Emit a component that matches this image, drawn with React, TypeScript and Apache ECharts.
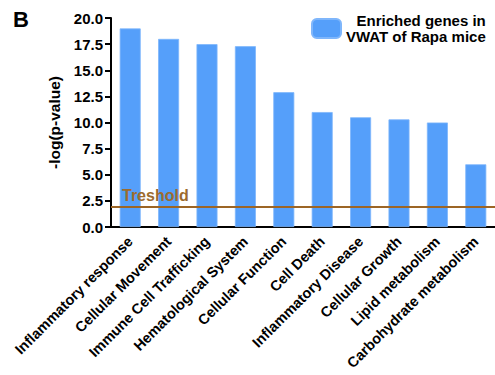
import React, { useEffect, useRef } from "react";
import * as echarts from "echarts";

const categories = [
  "Inflammatory response",
  "Cellular Movement",
  "Immune Cell Trafficking",
  "Hematological System",
  "Cellular Function",
  "Cell Death",
  "Inflammatory Disease",
  "Cellular Growth",
  "Lipid metabolism",
  "Carbohydrate metabolism",
];
const values = [19.0, 18.0, 17.5, 17.3, 12.9, 11.0, 10.5, 10.3, 10.0, 6.0];
const threshold = 1.9;
const seriesName = "Enriched genes in VWAT of Rapa mice";

const FONT = 'Arial, "Liberation Sans", sans-serif';

export default function App() {
  const ref = useRef<HTMLDivElement>(null);
  useEffect(() => {
    if (!ref.current) return;
    const chart = echarts.init(ref.current, undefined, { renderer: "svg" });
    chart.setOption({
      animation: false,
      textStyle: { fontFamily: FONT },
      title: {
        text: "B",
        left: 8,
        top: 3,
        textStyle: { fontSize: 22, fontWeight: "bold", color: "#000", fontFamily: FONT },
      },
      legend: {
        left: 311,
        top: 13,
        padding: 0,
        icon: "roundRect",
        itemWidth: 29,
        itemHeight: 19,
        itemGap: 5,
        data: [seriesName],
        formatter: () => "{a|Enriched genes in}\n{a|VWAT of Rapa mice}",
        textStyle: {
          rich: {
            a: {
              fontSize: 15,
              fontWeight: "bold",
              color: "#000",
              align: "right",
              lineHeight: 16,
              fontFamily: FONT,
            },
          },
        },
      },
      grid: { left: 111, top: 18, width: 386, bottom: 148, containLabel: false },
      xAxis: {
        type: "category",
        data: categories,
        axisLine: { lineStyle: { color: "#000", width: 2 } },
        axisTick: { alignWithLabel: true, length: 6, lineStyle: { color: "#000", width: 2 } },
        axisLabel: {
          rotate: 45,
          interval: 0,
          margin: 12,
          fontSize: 14.5,
          fontWeight: "bold",
          color: "#000",
          fontFamily: FONT,
        },
      },
      yAxis: {
        type: "value",
        min: 0,
        max: 20,
        interval: 2.5,
        name: "-log(p-value)",
        nameLocation: "middle",
        nameGap: 30,
        nameTextStyle: { fontSize: 15.5, fontWeight: "bold", color: "#000", fontFamily: FONT },
        axisLine: { show: true, lineStyle: { color: "#000", width: 2 } },
        axisTick: { show: true, length: 6, lineStyle: { color: "#000", width: 2 } },
        splitLine: { show: false },
        axisLabel: {
          formatter: (v: number) => v.toFixed(1),
          fontSize: 15,
          fontWeight: "bold",
          color: "#000",
          margin: 8,
          fontFamily: FONT,
        },
      },
      series: [
        {
          name: seriesName,
          type: "bar",
          data: values,
          barWidth: 21,
          itemStyle: { color: "#559ffa", borderColor: "#7fb6fb", borderWidth: 0.8 },
          markLine: {
            symbol: "none",
            silent: true,
            lineStyle: { color: "#9c6525", width: 2, type: "solid" },
            label: {
              show: true,
              position: "insideStartTop",
              formatter: "Treshold",
              color: "#9c6b2e",
              fontSize: 16,
              fontWeight: "bold",
              distance: [11, 4],
              fontFamily: FONT,
            },
            data: [{ yAxis: threshold }],
          },
        },
      ],
    });
    return () => chart.dispose();
  }, []);
  return <div ref={ref} style={{ width: 495, height: 375, position: "absolute", left: 0, top: 0 }} />;
}
